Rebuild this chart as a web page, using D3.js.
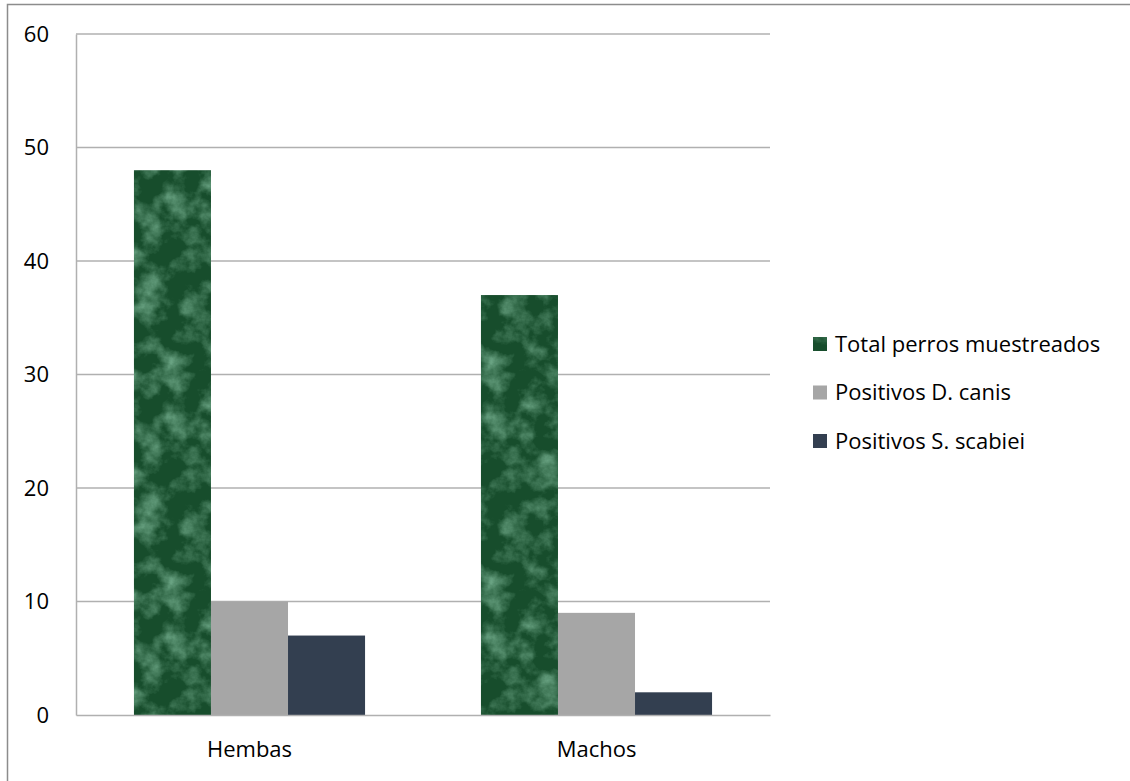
<!DOCTYPE html>
<html><head><meta charset="utf-8">
<script src="https://cdn.jsdelivr.net/npm/d3@7"></script>
<style>body{margin:0;background:#fff}svg{display:block}text{font-family:"Open Sans","Liberation Sans",sans-serif;fill:#000}</style>
</head><body>
<svg id="c" width="1130" height="781"></svg>
<script>
const categories = ["Hembas", "Machos"];
const seriesNames = ["Total perros muestreados", "Positivos D. canis", "Positivos S. scabiei"];
const totalPerros = [48, 37];
const positivosDCanis = [10, 9];
const positivosSScabiei = [7, 2];
const yTicks = [0, 10, 20, 30, 40, 50, 60];

const seriesValues = [totalPerros, positivosDCanis, positivosSScabiei];
const fills = ["url(#marble)", "#a6a6a6", "#333f50"];
const FONT = "'Open Sans', 'Liberation Sans', sans-serif";
const FS = 22;

const svg = d3.select("#c");
const defs = svg.append("defs");
// marble texture pattern for the green series
const pat = defs.append("pattern").attr("id","marble").attr("patternUnits","userSpaceOnUse")
  .attr("width",160).attr("height",220);
pat.append("rect").attr("width",160).attr("height",220).attr("fill","#174d2c");
const f = defs.append("filter").attr("id","turb").attr("x",0).attr("y",0).attr("width","100%").attr("height","100%");
f.append("feTurbulence").attr("type","fractalNoise").attr("baseFrequency","0.04").attr("numOctaves",5).attr("seed",3).attr("stitchTiles","stitch");
f.append("feColorMatrix").attr("type","matrix")
  .attr("values","0 0 0 0 0.22  0 0 0 0 0.50  0 0 0 0 0.33  0 0 0 -1.8 1.05");
pat.append("rect").attr("width",160).attr("height",220).attr("filter","url(#turb)");

// outer chart border
svg.append("rect").attr("x",7.5).attr("y",4.5).attr("width",1140).attr("height",800)
  .attr("fill","none").attr("stroke","#8c8c8c").attr("stroke-width",1.5);

const L = 76, R = 770, T = 34, B = 715;
const x0 = d3.scaleBand().domain(categories).range([L, R]).paddingInner(0.334).paddingOuter(0.167);
const x1 = d3.scaleBand().domain(d3.range(3)).range([0, x0.bandwidth()]);
const y = d3.scaleLinear().domain([0, 60]).range([B, T]);

// gridlines
svg.append("g").selectAll("line").data(yTicks.filter(d=>d>0)).join("line")
  .attr("x1",L).attr("x2",R).attr("y1",d=>y(d)).attr("y2",d=>y(d))
  .attr("stroke","#b0b0b0").attr("stroke-width",1.5);

// bars
const g = svg.append("g");
categories.forEach((c, ci) => {
  seriesValues.forEach((vals, si) => {
    g.append("rect")
      .attr("x", x0(c) + x1(si))
      .attr("width", x1.bandwidth())
      .attr("y", y(vals[ci]))
      .attr("height", y(0) - y(vals[ci]))
      .attr("fill", fills[si]);
  });
});

// axes
const yAxis = svg.append("g").attr("transform",`translate(${L},0)`)
  .call(d3.axisLeft(y).tickValues(yTicks).tickSize(0).tickPadding(27).tickFormat(d3.format("d")));
yAxis.select(".domain").attr("stroke","#b0b0b0").attr("stroke-width",1.5);
yAxis.selectAll("text").attr("font-size",FS).attr("font-family",FONT).attr("fill","#000");

const xAxis = svg.append("g").attr("transform",`translate(0,${B})`)
  .call(d3.axisBottom(x0).tickSize(0).tickPadding(26));
xAxis.select(".domain").attr("stroke","#b0b0b0").attr("stroke-width",1.5);
xAxis.selectAll("text").attr("font-size",FS).attr("font-family",FONT).attr("fill","#000");

// legend
const leg = svg.append("g");
seriesNames.forEach((n, i) => {
  const cy = 344 + i * 48.5;
  leg.append("rect").attr("x",813).attr("y",cy-7).attr("width",14).attr("height",14).attr("fill",fills[i]);
  leg.append("text").attr("x",835).attr("y",cy).attr("dy","0.35em").attr("font-size",FS).attr("font-family",FONT).text(n);
});
</script>
</body></html>
